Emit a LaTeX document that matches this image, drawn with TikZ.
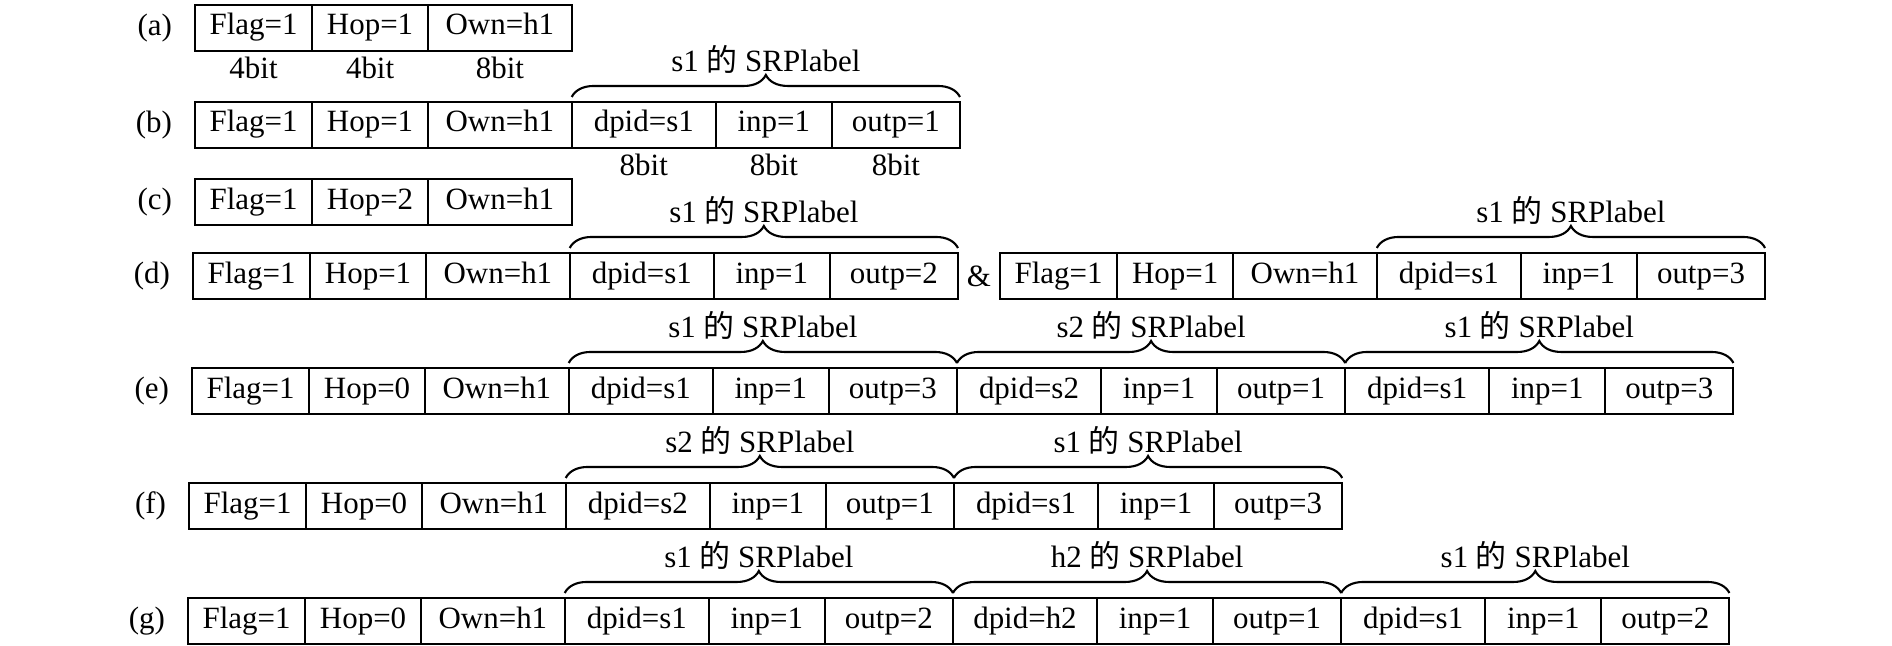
\documentclass[tikz,border=0pt]{standalone}
\usepackage{fontspec}
\setmainfont{Liberation Serif}
\newfontfamily\cjk{Noto Sans CJK SC}
\usetikzlibrary{positioning,decorations.pathreplacing}
\newcommand{\srplbl}[1]{#1 {\cjk 的} SRPlabel}

\begin{document}
\begin{tikzpicture}[
    x=0.01cm, y=-0.01cm,
    line width=0.6pt,
    txt/.style={inner sep=0pt, font=\fontsize{8.8}{10}\selectfont},
    field/.style={txt, rectangle, draw, minimum height=0.46cm, outer sep=0pt,
        text height=0.21cm, text depth=0.07cm},
    flagbox/.style={field, minimum width=1.17cm},
    hopbox/.style={field, minimum width=1.16cm},
    ownbox/.style={field, minimum width=1.435cm},
    dpidbox/.style={field, minimum width=1.44cm},
    inpbox/.style={field, minimum width=1.16cm},
    outpbox/.style={field, minimum width=1.28cm},
    rowlbl/.style={txt, anchor=east, xshift=-0.22cm},
    bitlbl/.style={txt, yshift=-0.165cm},
    srp/.style={decorate, decoration={brace, amplitude=0.22cm}},
    srptext/.style={txt, midway, yshift=0.38cm}
]
\useasboundingbox (0,0) rectangle (1892,646);

% (a) 报头
\node[flagbox, anchor=west] (a1) at (195,28) {Flag=1};
\node[hopbox, right=0pt of a1] (a2) {Hop=1};
\node[ownbox, right=0pt of a2] (a3) {Own=h1};
\node[rowlbl] at (a1.west) {(a)};
\node[bitlbl] at (a1.south) {4bit};
\node[bitlbl] at (a2.south) {4bit};
\node[bitlbl] at (a3.south) {8bit};

% (b) 报头 + s1 标签
\node[flagbox, anchor=west] (b1) at (195,125) {Flag=1};
\node[hopbox, right=0pt of b1] (b2) {Hop=1};
\node[ownbox, right=0pt of b2] (b3) {Own=h1};
\node[dpidbox, right=0pt of b3] (b4) {dpid=s1};
\node[inpbox, right=0pt of b4] (b5) {inp=1};
\node[outpbox, right=0pt of b5] (b6) {outp=1};
\node[rowlbl] at (b1.west) {(b)};
\node[bitlbl] at (b4.south) {8bit};
\node[bitlbl] at (b5.south) {8bit};
\node[bitlbl] at (b6.south) {8bit};
\draw[srp] ([yshift=0.05cm]b4.north west) -- ([yshift=0.05cm]b6.north east)
    node[srptext] {\srplbl{s1}};

% (c)
\node[flagbox, anchor=west] (c1) at (195,202) {Flag=1};
\node[hopbox, right=0pt of c1] (c2) {Hop=2};
\node[ownbox, right=0pt of c2] (c3) {Own=h1};
\node[rowlbl] at (c1.west) {(c)};

% (d) 两个分组
\node[flagbox, anchor=west] (d1) at (193,276) {Flag=1};
\node[hopbox, right=0pt of d1] (d2) {Hop=1};
\node[ownbox, right=0pt of d2] (d3) {Own=h1};
\node[dpidbox, right=0pt of d3] (d4) {dpid=s1};
\node[inpbox, right=0pt of d4] (d5) {inp=1};
\node[outpbox, right=0pt of d5] (d6) {outp=2};
\node[txt, minimum width=0.40cm, right=0pt of d6] (amp) {\&};
\node[flagbox, right=0pt of amp] (d7) {Flag=1};
\node[hopbox, right=0pt of d7] (d8) {Hop=1};
\node[ownbox, right=0pt of d8] (d9) {Own=h1};
\node[dpidbox, right=0pt of d9] (d10) {dpid=s1};
\node[inpbox, right=0pt of d10] (d11) {inp=1};
\node[outpbox, right=0pt of d11] (d12) {outp=3};
\node[rowlbl] at (d1.west) {(d)};
\draw[srp] ([yshift=0.05cm]d4.north west) -- ([yshift=0.05cm]d6.north east)
    node[srptext] {\srplbl{s1}};
\draw[srp] ([yshift=0.05cm]d10.north west) -- ([yshift=0.05cm]d12.north east)
    node[srptext] {\srplbl{s1}};

% (e)
\node[flagbox, anchor=west] (e1) at (192,391) {Flag=1};
\node[hopbox, right=0pt of e1] (e2) {Hop=0};
\node[ownbox, right=0pt of e2] (e3) {Own=h1};
\node[dpidbox, right=0pt of e3] (e4) {dpid=s1};
\node[inpbox, right=0pt of e4] (e5) {inp=1};
\node[outpbox, right=0pt of e5] (e6) {outp=3};
\node[dpidbox, right=0pt of e6] (e7) {dpid=s2};
\node[inpbox, right=0pt of e7] (e8) {inp=1};
\node[outpbox, right=0pt of e8] (e9) {outp=1};
\node[dpidbox, right=0pt of e9] (e10) {dpid=s1};
\node[inpbox, right=0pt of e10] (e11) {inp=1};
\node[outpbox, right=0pt of e11] (e12) {outp=3};
\node[rowlbl] at (e1.west) {(e)};
\draw[srp] ([yshift=0.05cm]e4.north west) -- ([yshift=0.05cm]e6.north east)
    node[srptext] {\srplbl{s1}};
\draw[srp] ([yshift=0.05cm]e7.north west) -- ([yshift=0.05cm]e9.north east)
    node[srptext] {\srplbl{s2}};
\draw[srp] ([yshift=0.05cm]e10.north west) -- ([yshift=0.05cm]e12.north east)
    node[srptext] {\srplbl{s1}};

% (f)
\node[flagbox, anchor=west] (f1) at (189,506) {Flag=1};
\node[hopbox, right=0pt of f1] (f2) {Hop=0};
\node[ownbox, right=0pt of f2] (f3) {Own=h1};
\node[dpidbox, right=0pt of f3] (f4) {dpid=s2};
\node[inpbox, right=0pt of f4] (f5) {inp=1};
\node[outpbox, right=0pt of f5] (f6) {outp=1};
\node[dpidbox, right=0pt of f6] (f7) {dpid=s1};
\node[inpbox, right=0pt of f7] (f8) {inp=1};
\node[outpbox, right=0pt of f8] (f9) {outp=3};
\node[rowlbl] at (f1.west) {(f)};
\draw[srp] ([yshift=0.05cm]f4.north west) -- ([yshift=0.05cm]f6.north east)
    node[srptext] {\srplbl{s2}};
\draw[srp] ([yshift=0.05cm]f7.north west) -- ([yshift=0.05cm]f9.north east)
    node[srptext] {\srplbl{s1}};

% (g)
\node[flagbox, anchor=west] (g1) at (188,621) {Flag=1};
\node[hopbox, right=0pt of g1] (g2) {Hop=0};
\node[ownbox, right=0pt of g2] (g3) {Own=h1};
\node[dpidbox, right=0pt of g3] (g4) {dpid=s1};
\node[inpbox, right=0pt of g4] (g5) {inp=1};
\node[outpbox, right=0pt of g5] (g6) {outp=2};
\node[dpidbox, right=0pt of g6] (g7) {dpid=h2};
\node[inpbox, right=0pt of g7] (g8) {inp=1};
\node[outpbox, right=0pt of g8] (g9) {outp=1};
\node[dpidbox, right=0pt of g9] (g10) {dpid=s1};
\node[inpbox, right=0pt of g10] (g11) {inp=1};
\node[outpbox, right=0pt of g11] (g12) {outp=2};
\node[rowlbl] at (g1.west) {(g)};
\draw[srp] ([yshift=0.05cm]g4.north west) -- ([yshift=0.05cm]g6.north east)
    node[srptext] {\srplbl{s1}};
\draw[srp] ([yshift=0.05cm]g7.north west) -- ([yshift=0.05cm]g9.north east)
    node[srptext] {\srplbl{h2}};
\draw[srp] ([yshift=0.05cm]g10.north west) -- ([yshift=0.05cm]g12.north east)
    node[srptext] {\srplbl{s1}};

\end{tikzpicture}
\end{document}
